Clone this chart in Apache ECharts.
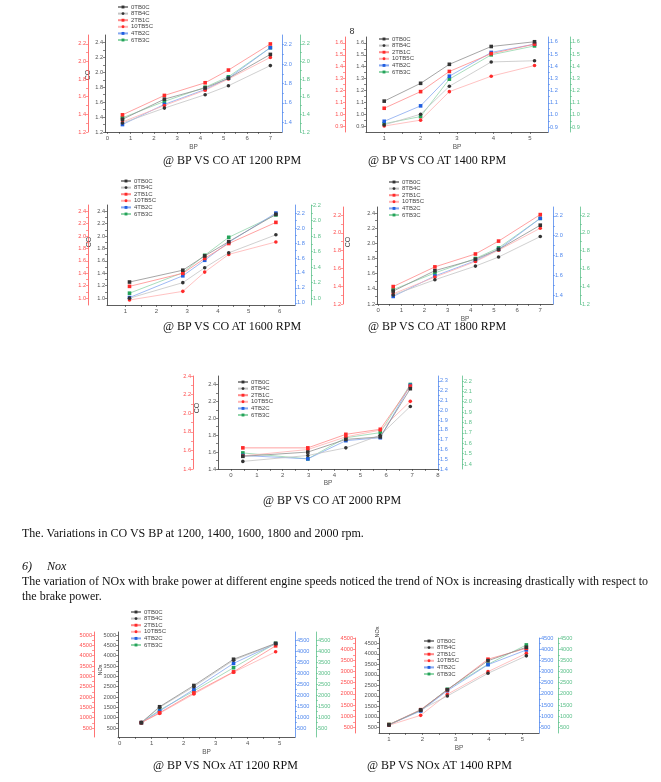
<!DOCTYPE html>
<html><head><meta charset="utf-8">
<script src="https://cdn.jsdelivr.net/npm/echarts@6/dist/echarts.min.js"></script>
<style>
html,body{margin:0;padding:0;background:#fff;width:661px;height:782px;overflow:hidden}
#chart{position:absolute;left:0;top:0;width:661px;height:782px}
.t{position:absolute;font-family:"Liberation Serif","Times New Roman",serif;font-size:12px;line-height:14px;color:#111;white-space:nowrap}
.i{font-style:italic}
</style></head><body>
<div id="chart"></div>
<div class="t" style="left:163px;top:153px">@ BP VS CO AT 1200 RPM</div>
<div class="t" style="left:368px;top:153px">@ BP VS CO AT 1400 RPM</div>
<div class="t" style="left:163px;top:319px">@ BP VS CO AT 1600 RPM</div>
<div class="t" style="left:368px;top:319px">@ BP VS CO AT 1800 RPM</div>
<div class="t" style="left:263px;top:493px">@ BP VS CO AT 2000 RPM</div>
<div class="t" style="left:22px;top:526px">The. Variations in CO VS BP at 1200, 1400, 1600, 1800 and 2000 rpm.</div>
<div class="t i" style="left:22px;top:559px">6)</div>
<div class="t i" style="left:47px;top:559px">Nox</div>
<div class="t" id="p1" style="left:22px;top:574px;font-size:11.94px">The variation of NOx with brake power at different engine speeds noticed the trend of NOx is increasing drastically with respect to</div>
<div class="t" style="left:22px;top:589px">the brake power.</div>
<div class="t" style="left:153px;top:758px">@ BP VS NOx AT 1200 RPM</div>
<div class="t" style="left:367px;top:758px">@ BP VS NOx AT 1400 RPM</div>
<script>
// ---------------- DATA ----------------
const seriesNames = ['0TB0C','8TB4C','2TB1C','10TB5C','4TB2C','6TB3C'];

const bpCo1200 = [0.65, 2.45, 4.2, 5.2, 7.0];
const co1200 = [
  [1.37, 1.64, 1.79, 1.92, 2.24],
  [1.32, 1.52, 1.70, 1.82, 2.09],
  [1.43, 1.69, 1.86, 2.03, 2.38],
  [1.335, 1.555, 1.76, 1.91, 2.20],
  [1.30, 1.57, 1.77, 1.92, 2.33],
  [1.39, 1.61, 1.80, 1.94, 2.33]
];

const bpCo1400 = [1.0, 2.0, 2.79, 3.94, 5.13];
const co1400 = [
  [1.11, 1.26, 1.42, 1.57, 1.61],
  [0.91, 1.00, 1.235, 1.44, 1.45],
  [1.05, 1.19, 1.36, 1.51, 1.59],
  [0.90, 0.95, 1.19, 1.32, 1.41],
  [0.94, 1.07, 1.32, 1.52, 1.59],
  [0.92, 0.98, 1.295, 1.50, 1.575]
];

const bpCo1600 = [1.13, 2.86, 3.57, 4.35, 5.88];
const co1600 = [
  [1.26, 1.45, 1.68, 1.91, 2.35],
  [1.00, 1.25, 1.49, 1.73, 2.02],
  [1.19, 1.40, 1.64, 1.88, 2.22],
  [0.97, 1.11, 1.42, 1.705, 1.905],
  [1.01, 1.36, 1.61, 1.90, 2.37],
  [1.08, 1.41, 1.69, 1.98, 2.34]
];

const bpCo1800 = [0.65, 2.45, 4.2, 5.2, 7.0];
const co1800 = [
  [1.37, 1.64, 1.79, 1.92, 2.24],
  [1.32, 1.52, 1.70, 1.82, 2.09],
  [1.43, 1.69, 1.86, 2.03, 2.38],
  [1.335, 1.555, 1.76, 1.91, 2.20],
  [1.30, 1.57, 1.77, 1.92, 2.33],
  [1.39, 1.61, 1.80, 1.94, 2.33]
];

const bpCo2000 = [0.46, 2.97, 4.44, 5.77, 6.93];
const co2000 = [
  [1.55, 1.60, 1.75, 1.78, 2.35],
  [1.49, 1.56, 1.65, 1.80, 2.14],
  [1.65, 1.65, 1.81, 1.87, 2.38],
  [1.555, 1.63, 1.78, 1.86, 2.20],
  [1.56, 1.52, 1.735, 1.77, 2.39],
  [1.59, 1.52, 1.77, 1.83, 2.40]
];

const bpNox1200 = [0.68, 1.25, 2.32, 3.56, 4.875];
const nox1200 = [
  [760, 1530, 2560, 3830, 4600],
  [760, 1500, 2500, 3780, 4580],
  [760, 1240, 2200, 3220, 4480],
  [760, 1210, 2145, 3200, 4190],
  [760, 1320, 2370, 3630, 4580],
  [760, 1370, 2290, 3420, 4600]
];

const bpNox1400 = [1.0, 1.95, 2.75, 3.97, 5.12];
const nox1400 = [
  [620, 1320, 2290, 3670, 4310],
  [610, 1330, 1990, 3070, 3900],
  [630, 1340, 2280, 3740, 4260],
  [600, 1070, 2070, 3150, 4020],
  [620, 1280, 2240, 3480, 4180],
  [640, 1300, 2310, 3500, 4420]
];

// tick label arrays
const xTicks0to7 = [0,1,2,3,4,5,6,7];
const xTicks1to5 = [1,2,3,4,5];
const xTicks1to6 = [1,2,3,4,5,6];
const xTicks0to8 = [0,1,2,3,4,5,6,7,8];
const xTicks0to5 = [0,1,2,3,4,5];
const yCo12to24 = [1.2,1.4,1.6,1.8,2.0,2.2,2.4];
const yCo12to22 = [1.2,1.4,1.6,1.8,2.0,2.2];
const yCo14to22 = [1.4,1.6,1.8,2.0,2.2];
const yCo09to16 = [0.9,1.0,1.1,1.2,1.3,1.4,1.5,1.6];
const yCo10to24 = [1.0,1.2,1.4,1.6,1.8,2.0,2.2,2.4];
const yCo10to22 = [1.0,1.2,1.4,1.6,1.8,2.0,2.2];
const yCo14to24 = [1.4,1.6,1.8,2.0,2.2,2.4];
const yCo14to23s = [1.4,1.5,1.6,1.7,1.8,1.9,2.0,2.1,2.2,2.3];
const yCo14to22s = [1.4,1.5,1.6,1.7,1.8,1.9,2.0,2.1,2.2];
const yNox500to5000 = [500,1000,1500,2000,2500,3000,3500,4000,4500,5000];
const yNox500to4500 = [500,1000,1500,2000,2500,3000,3500,4000,4500];

// ---------------- STYLE ----------------
const lineColors = ['#8f8f8f','#c4c4c4','#ff8a8a','#ffb3b3','#86a8f0','#93d6ac'];
const markColors = ['#333333','#333333','#ff2a2a','#ff2a2a','#1f5ee0','#24a35a'];
const symbols = ['rect','circle','rect','circle','rect','rect'];
const C_BLACK = '#333', C_RED = '#ff5050', C_BLUE = '#5088ee', C_GREEN = '#5cc08a';
const FONT = 'Liberation Sans, Arial, sans-serif';

const fmtCo = v => Number(v).toFixed(1);
const fmtInt = v => String(Math.round(v));

const grids = [], xAxes = [], yAxes = [], series = [], legends = [], graphics = [];

function withMinor(vals){
  const out = vals.slice();
  for (let i = 0; i < vals.length - 1; i++) out.push((vals[i] + vals[i+1]) / 2);
  return out;
}

function addChart(c){
  const gi = grids.length;
  grids.push({left:c.l, top:c.t, width:c.r - c.l, height:c.b - c.t});
  const xi = xAxes.length;
  xAxes.push({
    type:'value', gridIndex:gi, min:c.x[0], max:c.x[1],
    axisLine:{show:true, onZero:false, lineStyle:{color:C_BLACK, width:0.8}},
    axisTick:{show:true, customValues:withMinor(c.xl), length:2, lineStyle:{color:C_BLACK, width:0.6}},
    axisLabel:{customValues:c.xl, fontSize:6, margin:3, color:'#555', fontFamily:FONT, formatter:fmtInt},
    splitLine:{show:false},
    name:c.xname || '', nameLocation:'middle', nameGap:c.xgap || 12,
    nameTextStyle:{fontSize:6.5, color:'#555', fontFamily:FONT}
  });
  const yi = yAxes.length;
  const ax = [
    {r:c.yk, lab:c.ykl, col:C_BLACK, lc:'#555', pos:'left', off:0},
    {r:c.yr, lab:c.yrl, col:C_RED, lc:C_RED, pos:'left', off:c.ro},
    {r:c.yb, lab:c.ybl, col:C_BLUE, lc:C_BLUE, pos:'right', off:0},
    {r:c.yg, lab:c.ygl, col:C_GREEN, lc:C_GREEN, pos:'right', off:c.go}
  ];
  ax.forEach(a => {
    yAxes.push({
      type:'value', gridIndex:gi, min:a.r[0], max:a.r[1], position:a.pos, offset:a.off,
      axisLine:{show:true, onZero:false, lineStyle:{color:a.col, width:0.8}},
      axisTick:{show:true, customValues:withMinor(a.lab), length:2, lineStyle:{color:a.col, width:0.6}},
      axisLabel:{customValues:a.lab, fontSize:5.6, margin:2, color:a.lc, fontFamily:FONT, formatter:c.fmt},
      splitLine:{show:false}
    });
  });
  c.data.forEach((vals, k) => {
    series.push({
      type:'line', name:seriesNames[k], xAxisIndex:xi, yAxisIndex:yi,
      data:c.bp.map((x, i) => [x, vals[i]]),
      symbol:symbols[k], symbolSize:3.6, showAllSymbol:true,
      lineStyle:{width:0.8, color:lineColors[k]},
      itemStyle:{color:markColors[k]},
      z:10 - k, animation:false, silent:true
    });
  });
  legends.push({
    left:c.lg[0], top:c.lg[1], orient:'vertical', itemWidth:10, itemHeight:3.6, itemGap:0.6,
    selectedMode:false, padding:0,
    textStyle:{fontSize:6, color:'#444', fontFamily:FONT, padding:[0,0,0,-2]},
    data:seriesNames
  });
}

// CO 1200
addChart({l:105, r:282, t:35, b:132, x:[-0.1, 7.5], xl:xTicks0to7, bp:bpCo1200, data:co1200, fmt:fmtCo,
  yk:[1.2, 2.5], ykl:yCo12to24, yr:[1.2, 2.3], yrl:yCo12to22, ro:17,
  yb:[1.3, 2.3], ybl:yCo14to22, yg:[1.2, 2.3], ygl:yCo12to22, go:18,
  lg:[117, 4], xname:'BP', xgap:12});
// CO 1400
addChart({l:366, r:548, t:37, b:132, x:[0.5, 5.5], xl:xTicks1to5, bp:bpCo1400, data:co1400, fmt:fmtCo,
  yk:[0.85, 1.65], ykl:yCo09to16, yr:[0.85, 1.65], yrl:yCo09to16, ro:21,
  yb:[0.86, 1.64], ybl:yCo09to16, yg:[0.86, 1.64], ygl:yCo09to16, go:22,
  lg:[378, 36], xname:'BP', xgap:12});
// CO 1600
addChart({l:107, r:295, t:205, b:305, x:[0.4, 6.5], xl:xTicks1to6, bp:bpCo1600, data:co1600, fmt:fmtCo,
  yk:[0.89, 2.5], ykl:yCo10to24, yr:[0.89, 2.5], yrl:yCo10to24, ro:19,
  yb:[0.97, 2.31], ybl:yCo10to22, yg:[0.91, 2.2], ygl:yCo10to22, go:16,
  lg:[120, 178]});
// CO 1800
addChart({l:377, r:553, t:207, b:304, x:[-0.05, 7.55], xl:xTicks0to7, bp:bpCo1800, data:co1800, fmt:fmtCo,
  yk:[1.2, 2.48], ykl:yCo12to24, yr:[1.2, 2.29], yrl:yCo12to22, ro:34,
  yb:[1.31, 2.29], ybl:yCo14to22, yg:[1.2, 2.29], ygl:yCo12to22, go:27,
  lg:[388, 179], xname:'BP', xgap:12});
// CO 2000
addChart({l:218, r:438, t:376, b:469, x:[-0.5, 8], xl:xTicks0to8, bp:bpCo2000, data:co2000, fmt:fmtCo,
  yk:[1.4, 2.5], ykl:yCo14to24, yr:[1.4, 2.4], yrl:yCo14to24, ro:25,
  yb:[1.4, 2.35], ybl:yCo14to23s, yg:[1.352, 2.248], ygl:yCo14to22s, go:24,
  lg:[237, 379], xname:'BP', xgap:11});
// NOx 1200
addChart({l:118, r:295, t:632, b:737, x:[-0.05, 5.48], xl:xTicks0to5, bp:bpNox1200, data:nox1200, fmt:fmtInt,
  yk:[65, 5150], ykl:yNox500to5000, yr:[65, 5150], yrl:yNox500to5000, ro:24,
  yb:[91, 4864], ybl:yNox500to4500, yg:[91, 4864], ygl:yNox500to4500, go:21,
  lg:[130, 609], xname:'BP', xgap:12});
// NOx 1400
addChart({l:379, r:539, t:638, b:733, x:[0.7, 5.5], xl:xTicks1to5, bp:bpNox1400, data:nox1400, fmt:fmtInt,
  yk:[230, 4750], ykl:yNox500to4500, yr:[250, 4500], yrl:yNox500to4500, ro:24,
  yb:[250, 4500], ybl:yNox500to4500, yg:[250, 4500], ygl:yNox500to4500, go:19,
  lg:[423, 638], xname:'BP', xgap:12});

function vText(txt, x, y, size){
  return {type:'text', x:x, y:y, rotation:Math.PI/2,
    style:{text:txt, fontSize:size, fill:'#444', fontFamily:FONT, align:'center', verticalAlign:'middle'}};
}
graphics.push(vText('CO', 88, 75, 7));
graphics.push(vText('CO', 89, 242, 7));
graphics.push(vText('CO', 348, 242, 7));
graphics.push(vText('CO', 197, 408, 7));
graphics.push(vText('NOx', 100, 670, 5.5));
graphics.push(vText('NOx', 377, 632, 5.5));
graphics.push({type:'text', x:352, y:32, style:{text:'8', fontSize:9, fill:'#333', fontFamily:FONT, align:'center', verticalAlign:'middle'}});

const chart = echarts.init(document.getElementById('chart'), null, {renderer:'canvas'});
chart.setOption({
  backgroundColor:'#ffffff',
  animation:false,
  textStyle:{fontFamily:FONT},
  grid:grids, xAxis:xAxes, yAxis:yAxes, series:series, legend:legends, graphic:graphics
});
</script>
</body></html>
